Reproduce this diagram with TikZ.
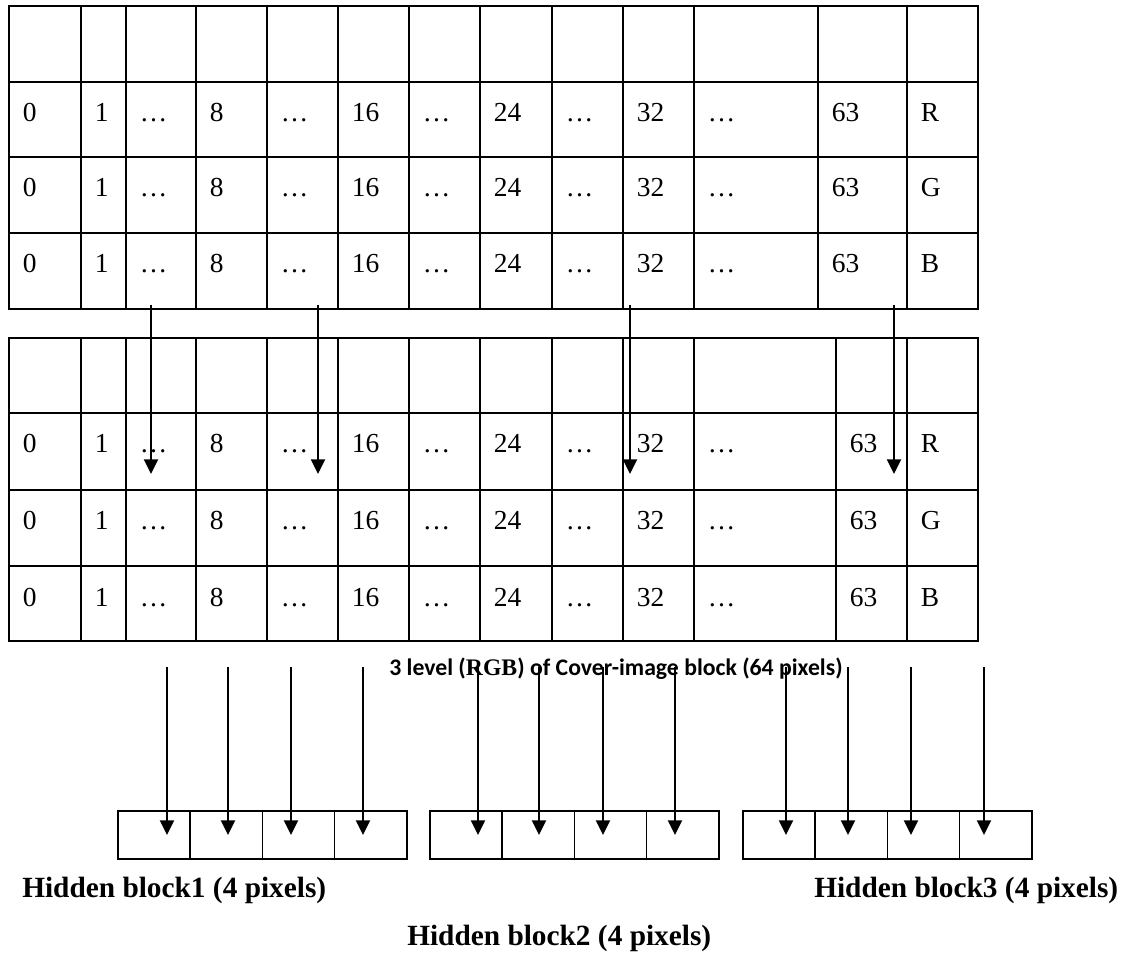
\documentclass[tikz,border=0pt]{standalone}
\usepackage{fontspec}
\setmainfont{Liberation Serif}
\newfontfamily\capfont{Carlito}
\usetikzlibrary{arrows.meta}
\begin{document}
\begin{tikzpicture}[x=0.75pt,y=-0.75pt,
  gridline/.style={line width=1.7pt,line cap=rect},
  hbox/.style={line width=1.2pt},
  arr/.style={line width=1.5pt,-{Triangle[length=11pt,width=10.5pt]}},
  celltxt/.style={anchor=base west,inner sep=0pt,font=\fontsize{20.6pt}{24pt}\selectfont},
  hlabel/.style={anchor=base west,inner sep=0pt,font=\fontsize{22pt}{26pt}\selectfont\bfseries},
  caption/.style={anchor=base west,inner sep=0pt,font=\fontsize{17.8pt}{21pt}\selectfont\bfseries},
]
\useasboundingbox (0,0) rectangle (1129,955);

% ---------- top table ----------
\foreach \x in {9,81,126,196,267,338,409,480,552,623,694,818,907,978}
  \draw[gridline] (\x,6) -- (\x,309);
\foreach \y in {6,82,157,233,309}
  \draw[gridline] (9,\y) -- (978,\y);
\foreach \r/\yb/\c in {1/122/R,2/197/G,3/273/B}{
  \foreach \x/\t [count=\i] in {9/0,81/1,126/…,196/8,267/…,338/16,409/…,480/24,552/…,623/32,694/…,818/63}
    \node[celltxt] (ta-\r-\i) at (\x+13.5,\yb) {\t};
  \node[celltxt] (ta-\r-13) at (907+13.5,\yb) {\c};
}

% ---------- bottom table ----------
\foreach \x in {9,81,126,196,267,338,409,480,552,623,694,836,907,978}
  \draw[gridline] (\x,338) -- (\x,641);
\foreach \y in {338,413,490,566,641}
  \draw[gridline] (9,\y) -- (978,\y);
\foreach \r/\yb/\c in {1/453/R,2/530/G,3/606/B}{
  \foreach \x/\t [count=\i] in {9/0,81/1,126/…,196/8,267/…,338/16,409/…,480/24,552/…,623/32,694/…,836/63}
    \node[celltxt] (tb-\r-\i) at (\x+13.5,\yb) {\t};
  \node[celltxt] (tb-\r-13) at (907+13.5,\yb) {\c};
}

% ---------- arrows between tables ----------
\foreach \x [count=\i] in {151,318,630,894}{
  \coordinate (ua-\i) at (\x,305);
  \coordinate (ub-\i) at (\x,474);
  \draw[arr] (ua-\i) -- (ub-\i);
}

% ---------- caption ----------
\node[caption] (cap) at (389,675) {{\capfont 3 level (}RGB{\capfont ) of Cover-image block (64 pixels)}};

% ---------- hidden blocks ----------
\foreach \bx [count=\b] in {118,430,743}{
  \foreach \k in {0,1,2,3}
    \draw[hbox] (\bx+\k*72.2,811) rectangle (\bx+\k*72.2+72.2,859);
}
\foreach \x [count=\i] in {167,228,291,363,478,539,603,675,786,848,911,984}{
  \coordinate (da-\i) at (\x,667);
  \coordinate (db-\i) at (\x,835);
  \draw[arr] (da-\i) -- (db-\i);
}

% ---------- labels ----------
\node[hlabel] (hb1) at (22,897) {Hidden block1 (4 pixels)};
\node[hlabel] (hb2) at (407,945) {Hidden block2 (4 pixels)};
\node[hlabel] (hb3) at (814,897) {Hidden block3 (4 pixels)};
\end{tikzpicture}
\end{document}
